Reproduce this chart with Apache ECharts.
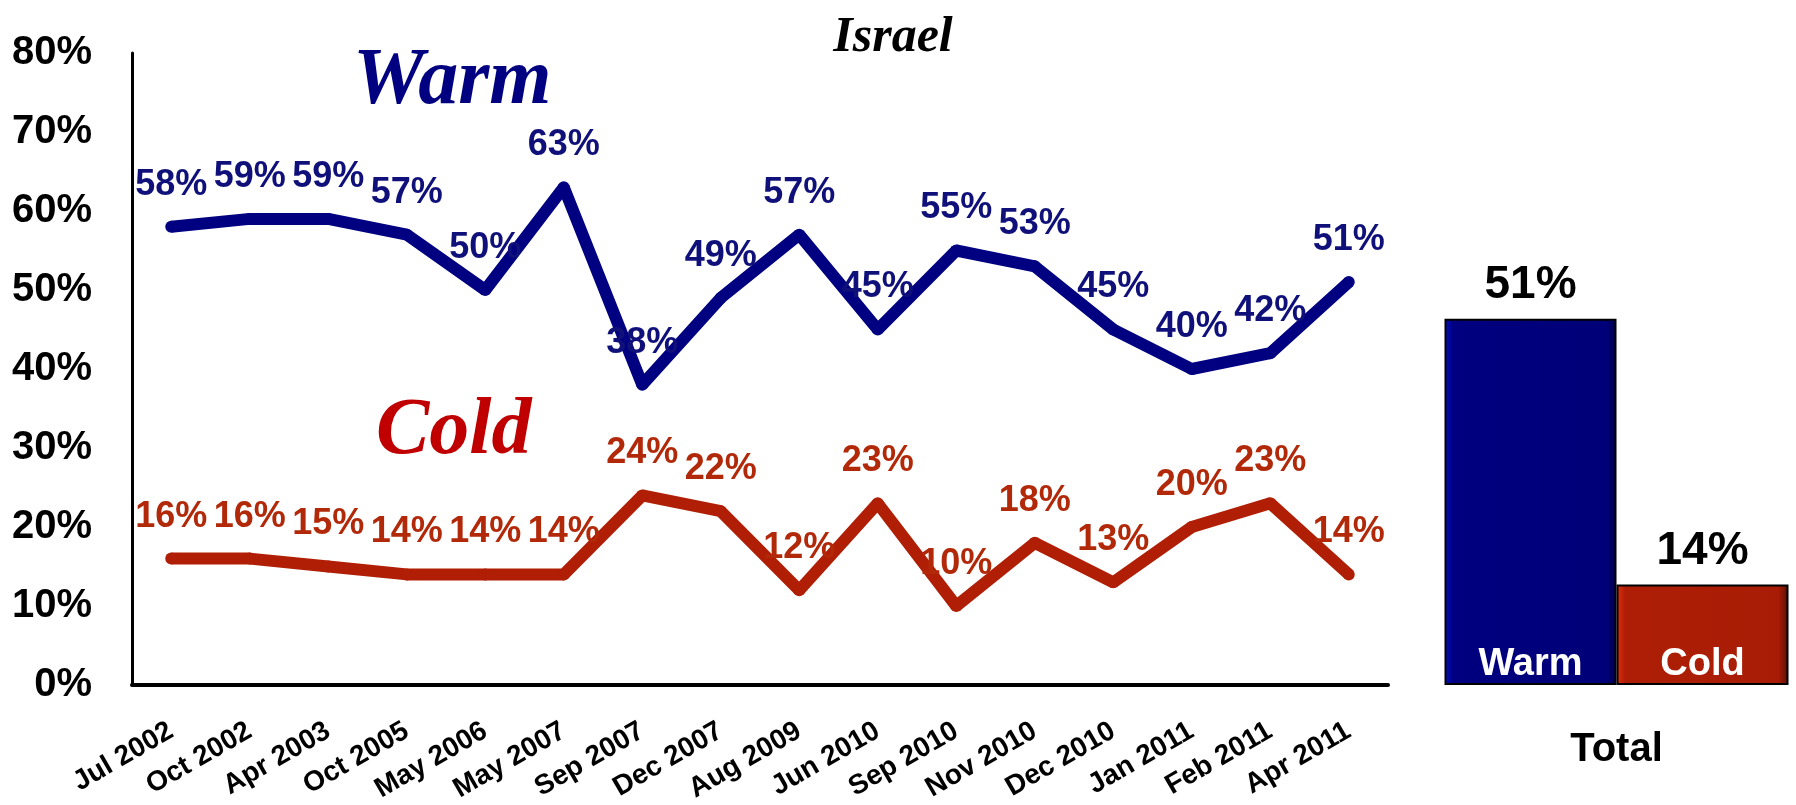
<!DOCTYPE html>
<html>
<head>
<meta charset="utf-8">
<script src="https://cdn.jsdelivr.net/npm/echarts@6/dist/echarts.min.js"></script>
<style>
  html, body { margin: 0; padding: 0; background: #fff; }
  #chart { width: 1796px; height: 805px; }
</style>
</head>
<body>
<div id="chart"></div>
<script>
// Survey dates
const dates = [
    "Jul 2002", "Oct 2002", "Apr 2003", "Oct 2005", "May 2006", "May 2007",
    "Sep 2007", "Dec 2007", "Aug 2009", "Jun 2010", "Sep 2010", "Nov 2010",
    "Dec 2010", "Jan 2011", "Feb 2011", "Apr 2011",
];

// Percent feeling warm / cold
const warm = [58, 59, 59, 57, 50, 63, 38, 49, 57, 45, 55, 53, 45, 40, 42, 51];
const cold = [16, 16, 15, 14, 14, 14, 24, 22, 12, 23, 10, 18, 13, 20, 23, 14];

// Total bars on the right
const totalCategory = ["Total"];
const totalWarm = [51];
const totalCold = [14];

const sans = "'Liberation Sans', Arial, sans-serif";
const serif = "'Liberation Serif', 'Times New Roman', serif";
const navy = "#000080";
const red = "#B01E05";

const chart = echarts.init(document.getElementById("chart"));

const lineLabel = (color) => ({
    show: true,
    position: "top",
    distance: 18,
    color: color,
    fontFamily: sans,
    fontWeight: "bold",
    fontSize: 36,
    formatter: "{c}%",
});

// name inside the bar, at its bottom
const innerName = (name) => ({
    show: true,
    position: "insideBottom",
    distance: 1,
    color: "#fff",
    fontFamily: sans,
    fontWeight: "bold",
    fontSize: 38,
    formatter: name,
});

// value printed above the bar
const topValue = {
    symbol: "rect",
    symbolSize: 1,
    itemStyle: { color: "transparent" },
    label: {
        show: true,
        position: "top",
        distance: 10,
        color: "#000",
        fontFamily: sans,
        fontWeight: "bold",
        fontSize: 46,
        formatter: "{c}%",
    },
    data: [{ type: "max" }],
};

const option = {
    animation: false,
    title: {
        text: "Israel",
        left: 888,
        top: 8,
        textAlign: "center",
        textStyle: {
            fontFamily: serif,
            fontStyle: "italic",
            fontWeight: "bold",
            fontSize: 50,
            color: "#000",
        },
    },
    graphic: [
        {
            type: "text",
            left: 353,
            top: 42,
            style: {
                text: "Warm",
                fill: navy,
                font: "italic bold 80px " + serif,
            },
        },
        {
            type: "text",
            left: 376,
            top: 392,
            style: {
                text: "Cold",
                fill: "#C00000",
                font: "italic bold 80px " + serif,
            },
        },
    ],
    grid: [
        { left: 132, right: 408, top: 53, bottom: 120 },
        { left: 1443, width: 347, top: 53, bottom: 120 },
    ],
    xAxis: [
        {
            gridIndex: 0,
            type: "category",
            data: dates,
            boundaryGap: true,
            axisLine: { lineStyle: { color: "#000", width: 4 } },
            axisTick: { show: false },
            axisLabel: {
                rotate: 30,
                margin: 44,
                interval: 0,
                color: "#000",
                fontFamily: sans,
                fontWeight: "bold",
                fontSize: 28,
            },
        },
        {
            gridIndex: 1,
            type: "category",
            data: totalCategory,
            axisLine: { show: false },
            axisTick: { show: false },
            axisLabel: {
                margin: 45,
                color: "#000",
                fontFamily: sans,
                fontWeight: "bold",
                fontSize: 40,
            },
        },
    ],
    yAxis: [
        {
            gridIndex: 0,
            type: "value",
            min: 0,
            max: 80,
            interval: 10,
            axisLine: { show: true, lineStyle: { color: "#000", width: 3 } },
            axisTick: { show: false },
            splitLine: { show: false },
            axisLabel: {
                margin: 40,
                color: "#000",
                fontFamily: sans,
                fontWeight: "bold",
                fontSize: 40,
                formatter: "{value}%",
            },
        },
        {
            gridIndex: 1,
            type: "value",
            min: 0,
            max: 88,
            show: false,
        },
    ],
    series: [
        {
            name: "Warm",
            type: "line",
            xAxisIndex: 0,
            yAxisIndex: 0,
            data: warm,
            symbol: "circle",
            symbolSize: 12,
            itemStyle: { color: navy },
            lineStyle: { color: navy, width: 12 },
            label: lineLabel("#10107A"),
        },
        {
            name: "Cold",
            type: "line",
            xAxisIndex: 0,
            yAxisIndex: 0,
            data: cold,
            symbol: "circle",
            symbolSize: 12,
            itemStyle: { color: red },
            lineStyle: { color: red, width: 12 },
            label: lineLabel("#B2290A"),
        },
        {
            name: "Total Warm",
            type: "bar",
            xAxisIndex: 1,
            yAxisIndex: 1,
            data: totalWarm,
            barWidth: 172,
            barGap: "0%",
            itemStyle: {
                color: new echarts.graphic.LinearGradient(0, 0, 1, 0, [
                    { offset: 0, color: "#0010C8" },
                    { offset: 0.05, color: "#000080" },
                    { offset: 0.94, color: "#000078" },
                    { offset: 1, color: "#000050" },
                ]),
                borderColor: "#000",
                borderWidth: 2,
            },
            label: innerName("Warm"),
            markPoint: topValue,
        },
        {
            name: "Total Cold",
            type: "bar",
            xAxisIndex: 1,
            yAxisIndex: 1,
            data: totalCold,
            barWidth: 172,
            barGap: "0%",
            itemStyle: {
                color: new echarts.graphic.LinearGradient(0, 0, 1, 0, [
                    { offset: 0, color: "#E8300C" },
                    { offset: 0.05, color: "#AE1E06" },
                    { offset: 0.94, color: "#A81C05" },
                    { offset: 1, color: "#5A1004" },
                ]),
                borderColor: "#000",
                borderWidth: 2,
            },
            label: innerName("Cold"),
            markPoint: topValue,
        },
    ],
};

chart.setOption(option);
</script>
</body>
</html>
